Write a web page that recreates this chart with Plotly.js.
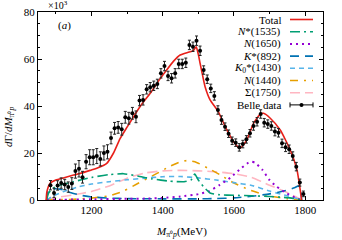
<!DOCTYPE html>
<html><head><meta charset="utf-8">
<script src="https://cdn.plot.ly/plotly-3.0.1.min.js"></script>
<style>html,body{margin:0;padding:0;background:#fff}#c{width:342px;height:240px}</style>
</head><body><div id="c"></div>
<script>
// Belle data
const dataX = [1085,1095,1105,1115,1125,1135,1145,1155,1165,1175,1185,1195,1205,1215,1225,1235,1245,1255,1265,1275,1285,1295,1305,1315,1325,1335,1345,1355,1365,1375,1385,1395,1405,1415,1425,1435,1445,1455,1465,1475,1485,1495,1505,1515,1525,1535,1545,1555,1565,1575,1585,1595,1605,1615,1625,1635,1645,1655,1665,1675,1685,1695,1705,1715,1725,1735,1745,1755,1765,1775,1785,1795];
const dataY = [6.3,3.0,6.2,7.2,6.6,5.5,7.0,12.3,13.3,9.7,16.3,18.2,18.2,18.7,17.5,20.0,20.5,26.4,30.5,30.9,30.1,35.2,34.8,36.9,35.4,42.3,42.6,47.1,48.0,48.6,49.4,53.9,57.0,52.8,51.8,53.9,57.9,57.9,58.4,66.0,65.2,67.8,63.5,55.3,51.4,47.5,44.3,38.3,34.0,31.2,28.2,25.2,24.4,22.4,23.8,25.8,28.4,31.5,33.3,36.6,32.9,32.3,31.5,29.1,28.6,24.1,22.4,21.6,18.7,14.2,7.4,2.6];
const dataErr = [2.0,2.0,2.0,2.2,2.2,2.2,2.5,3.0,3.5,2.5,3.0,3.2,3.2,3.2,3.0,3.0,3.0,2.5,2.5,2.5,2.5,2.5,2.5,2.5,2.5,2.2,2.2,2.0,2.0,2.0,2.0,2.0,2.0,2.0,2.0,2.0,2.0,2.0,2.0,2.0,2.0,2.0,2.0,1.8,1.8,1.8,1.8,1.8,1.8,1.6,1.6,1.6,1.6,1.6,1.6,1.6,1.6,1.8,1.8,1.8,1.8,1.8,1.8,1.8,1.8,1.8,1.8,1.8,1.8,1.8,1.5,1.2];

// Total
const totX = [1073,1075,1084,1100,1121,1150,1168,1200,1215,1243,1262,1280,1300,1318,1340,1365,1390,1411,1430,1449,1470,1486,1494,1500,1505,1512,1519,1533,1556,1580,1599,1617,1636,1655,1674,1683,1702,1730,1758,1777,1786,1790];
const totY = [0,3.5,7.1,8.5,9.4,10.6,11.3,12.8,13.5,15.6,20,26,31,35.4,40.5,45.4,51,55.3,59,61.7,62.8,63.5,65.2,62,58.2,53,48.2,42.6,37.6,29.8,24.8,22.0,25.5,32.6,36.6,36.9,34.8,29.8,21.3,12.8,4.3,0];

// N*(1535)
const n1535X = [1074,1080,1090,1110,1150,1200,1250,1290,1330,1370,1420,1460,1480,1490,1500,1515,1533,1560,1600,1650,1700,1750,1780,1790];
const n1535Y = [0,3,4.8,6.2,7.8,9.6,10.8,11.2,10.2,9.0,8.0,7.8,8.6,11.0,8.5,5.6,3.0,2.2,2.0,1.8,1.5,1.0,0.3,0];

// N(1650)
const n1650X = [1074,1200,1300,1350,1400,1450,1500,1530,1560,1590,1620,1640,1650,1660,1680,1700,1720,1750,1775,1790];
const n1650Y = [0,0.3,0.5,0.6,0.9,1.5,2.5,3.8,6.4,9.5,13.5,15.8,16.3,15.8,12.8,8.5,5.7,2.7,0.8,0];

// K*(892)
const k892X = [1074,1078,1085,1100,1120,1140,1170,1200,1250,1300,1400,1500,1550,1600,1650,1700,1740,1770,1782,1788,1790];
const k892Y = [0,3.5,4.5,4.8,4.3,3.2,2.0,1.3,0.8,0.6,0.5,0.5,0.6,0.9,1.6,2.6,3.8,5.2,6.0,3.5,0];

// K0*(1430)
const k1430X = [1074,1090,1120,1160,1200,1250,1300,1350,1400,1450,1500,1550,1600,1650,1700,1750,1780,1790];
const k1430Y = [0,1.5,3.5,5.5,6.8,7.8,8.6,9.3,9.9,10.0,9.4,8.5,7.4,6.2,3.8,1.8,0.5,0];

// N(1440)
const n1440X = [1074,1150,1200,1250,1290,1330,1380,1420,1450,1470,1495,1530,1560,1600,1645,1700,1750,1790];
const n1440Y = [0,0.3,0.8,1.8,3.8,7.0,11.0,14.3,16.3,16.8,16.0,13.3,10.8,7.2,4.2,1.7,0.5,0];

// Sigma(1750)
const s1750X = [1074,1100,1150,1200,1250,1300,1350,1400,1450,1500,1550,1600,1650,1700,1740,1775,1790];
const s1750Y = [0,1.0,2.2,3.6,6.0,9.3,11.5,12.4,12.6,12.4,12.0,11.2,9.6,6.3,3.8,1.3,0];

const legendLabels = ["Total","<i>N</i>*(1535)","<i>N</i>(1650)","<i>K</i>*(892)","<i>K</i><sub>0</sub>*(1430)","<i>N</i>(1440)","Σ(1750)","Belle data"];
const xTicks = [1200,1400,1600,1800];
const yTicks = [0,20,40,60,80];

const FONT = "Liberation Serif, Times New Roman, serif";
const styles = [
  {color:"#e8201a", dash:"solid", width:1.6},
  {color:"#009e73", dash:"10px,4px,2px,4px", width:1.6},
  {color:"#9400d3", dash:"2px,4px", width:2},
  {color:"#0072b2", dash:"9px,6px", width:1.6},
  {color:"#56b4e9", dash:"5px,4px", width:1.6},
  {color:"#e69f00", dash:"8px,6px,2px,6px", width:1.6},
  {color:"#ffb6c1", dash:"10px,5px", width:1.6}
];
const series = [[totX,totY],[n1535X,n1535Y],[n1650X,n1650Y],[k892X,k892Y],[k1430X,k1430Y],[n1440X,n1440Y],[s1750X,s1750Y]];

const traces = [];
for (let i = series.length-1; i >= 0; i--) {
  traces.push({x:series[i][0], y:series[i][1], type:"scatter", mode:"lines",
    line:{color:styles[i].color, dash:styles[i].dash, width:styles[i].width, shape:"spline", smoothing:0.5},
    showlegend:false, hoverinfo:"skip", cliponaxis:true});
}
traces.push({x:dataX, y:dataY, type:"scatter", mode:"markers",
  marker:{color:"#000", size:4},
  error_y:{type:"data", array:dataErr, visible:true, color:"#222", thickness:1, width:1.5},
  showlegend:false, hoverinfo:"skip"});

// custom legend (text right, sample on the right)
const L = 38, R = 323, T = 12, B = 200;
const px2x = p => (p - L) / (R - L);
const py2y = p => (B - p) / (B - T);
const annotations = [];
const shapes = [];
legendLabels.forEach((lab, i) => {
  const py = 19.5 + 12.2 * i;
  annotations.push({xref:"paper", yref:"paper", x:px2x(283), y:py2y(py), xanchor:"right", yanchor:"middle",
    text:lab, showarrow:false, font:{family:FONT, size:11, color:"#000"}});
  if (i < 7) {
    shapes.push({type:"line", xref:"paper", yref:"paper", x0:px2x(290), x1:px2x(313), y0:py2y(py), y1:py2y(py),
      line:{color:styles[i].color, dash:styles[i].dash, width:styles[i].width}});
  } else {
    shapes.push({type:"line", xref:"paper", yref:"paper", x0:px2x(290), x1:px2x(313), y0:py2y(py), y1:py2y(py), line:{color:"#000", width:1}});
    shapes.push({type:"line", xref:"paper", yref:"paper", x0:px2x(290), x1:px2x(290), y0:py2y(py-2.5), y1:py2y(py+2.5), line:{color:"#000", width:1}});
    shapes.push({type:"line", xref:"paper", yref:"paper", x0:px2x(313), x1:px2x(313), y0:py2y(py-2.5), y1:py2y(py+2.5), line:{color:"#000", width:1}});
    shapes.push({type:"circle", xref:"paper", yref:"paper", x0:px2x(299.5), x1:px2x(303.5), y0:py2y(py+2), y1:py2y(py-2), fillcolor:"#000", line:{color:"#000", width:0}});
  }
});
annotations.push({xref:"paper", yref:"paper", x:px2x(46), y:py2y(5), xanchor:"left", yanchor:"middle",
  text:"×10<sup>3</sup>", showarrow:false, font:{family:FONT, size:10, color:"#000"}});
annotations.push({xref:"paper", yref:"paper", x:px2x(64), y:py2y(25), xanchor:"center", yanchor:"middle",
  text:"(<i>a</i>)", showarrow:false, font:{family:FONT, size:11, color:"#000"}});
annotations.push({xref:"paper", yref:"paper", x:px2x(9), y:py2y(127), xanchor:"center", yanchor:"middle", textangle:-90,
  text:"<i>d</i>Γ/<i>dM</i><sub>π⁰<i>p</i></sub>", showarrow:false, font:{family:FONT, size:11, color:"#000"}});
annotations.push({xref:"paper", yref:"paper", x:px2x(181), y:py2y(232), xanchor:"center", yanchor:"middle",
  text:"<i>M</i><sub>π⁰<i>p</i></sub>(MeV)", showarrow:false, font:{family:FONT, size:11, color:"#000"}});

const layout = {
  width:342, height:240,
  margin:{l:L, r:342-R, t:T, b:240-B, pad:0},
  paper_bgcolor:"#fff", plot_bgcolor:"#fff",
  font:{family:FONT, size:11, color:"#000"},
  showlegend:false,
  xaxis:{range:[1050,1850], tickvals:xTicks, ticktext:xTicks.map(String), ticks:"inside", ticklen:4, tickcolor:"#000",
    showline:true, linecolor:"#000", linewidth:1, mirror:"allticks", showgrid:false, zeroline:false,
    minor:{dtick:100, tick0:1100, ticks:"inside", ticklen:2, tickcolor:"#000", showgrid:false},
    tickfont:{family:FONT, size:11}},
  yaxis:{range:[0,80], tickvals:yTicks, ticktext:yTicks.map(String), ticks:"inside", ticklen:4, tickcolor:"#000",
    showline:true, linecolor:"#000", linewidth:1, mirror:"allticks", showgrid:false, zeroline:false,
    minor:{dtick:5, tick0:0, ticks:"inside", ticklen:2, tickcolor:"#000", showgrid:false},
    tickfont:{family:FONT, size:11}},
  annotations, shapes
};
Plotly.newPlot("c", traces, layout, {staticPlot:true, displayModeBar:false});
</script></body></html>
